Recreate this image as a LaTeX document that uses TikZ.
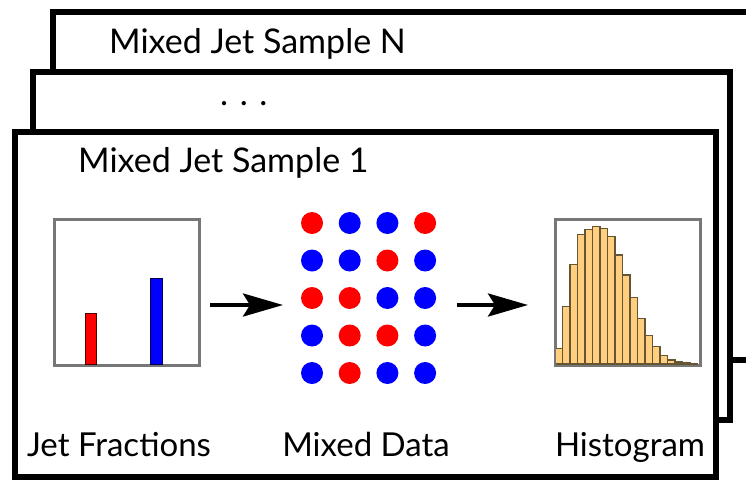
\documentclass[tikz,border=0pt]{standalone}
\usepackage{fontspec}
\setmainfont{Lato}
\usetikzlibrary{arrows.meta}
\definecolor{framegray}{HTML}{777777}
\definecolor{histfill}{HTML}{FFCF7F}
\definecolor{histedge}{HTML}{665533}
\definecolor{dotred}{HTML}{FF0000}
\definecolor{dotblue}{HTML}{0000FF}
\tikzset{
  frame/.style={draw=black, line width=6pt, fill=white},
  plotbox/.style={draw=framegray, line width=2pt, fill=white, minimum width=144pt, minimum height=145pt, inner sep=0pt, anchor=north west},
  title/.style={font=\fontsize{34}{40}\selectfont, anchor=base west, inner sep=0pt},
  label/.style={font=\fontsize{33}{38}\selectfont, anchor=base, inner sep=0pt},
  flow/.style={line width=4pt, -{Stealth[length=40pt, width=23pt, inset=7pt]}},
  rdot/.style={circle, fill=dotred, minimum size=22pt, inner sep=0pt},
  bdot/.style={circle, fill=dotblue, minimum size=22pt, inner sep=0pt},
  hbar/.style={draw=histedge, line width=1.4pt, fill=histfill},
}
\begin{document}
\begin{tikzpicture}[x=1pt, y=-1pt]
\clip (0,0) rectangle (746,480);
% stacked frames
\draw[frame] (52.5,12) rectangle (800,360);
\node[title] (tN) at (109,53) {Mixed Jet Sample N};
\draw[frame] (33,72) rectangle (730,420);
\node[title] (tdots) at (220,105) {. . .};
\draw[frame] (14.5,132) rectangle (716,477);
\node[title] (t1) at (78,172) {Mixed Jet Sample 1};

% jet fractions plot
\node[plotbox] (chart) at (54,219) {};
\draw[draw=black!70!red, line width=1pt, fill=dotred] (85,364) rectangle (96,313);
\draw[draw=black!70!blue, line width=1pt, fill=dotblue] (150,364) rectangle (162,278);
\draw[draw=framegray, line width=2pt] (chart.north west) rectangle (chart.south east);

% mixed data
\foreach \row/\cols [count=\i from 0] in {0/{r,b,b,r},1/{b,b,r,b},2/{r,r,b,b},3/{b,r,r,b},4/{b,r,b,b}}{
  \foreach \c [count=\j from 0] in \cols {
    \node[\c dot] (d\i\j) at ({312+37.7*\j},{223+37.5*\i}) {};
  }
}
\node[inner sep=0pt, minimum width=146pt, minimum height=146pt] (data) at (368.5,298) {};

% histogram
\node[plotbox] (hist) at (555,219) {};
\foreach \h [count=\k from 0] in {15.7,57.3,99.7,129.7,134.7,137.3,135.7,127.3,109,89,66.3,45.7,28.3,17.3,8.3,4,2,1,0.7}{
  \draw[hbar] ({555+7.5*\k},364) rectangle ({562.5+7.5*\k},{364-\h});
}
\draw[draw=framegray, line width=2pt] (hist.north west) rectangle (hist.south east);

% arrows
\coordinate (a1s) at (210,305);
\coordinate (a1e) at (283,305);
\coordinate (a2s) at (457,305);
\coordinate (a2e) at (528,305);
\draw[flow] (a1s) -- (a1e);
\draw[flow] (a2s) -- (a2e);

% labels
\node[label] (lj) at (119,456) {Jet Fractions};
\node[label] (lm) at (366,456) {Mixed Data};
\node[label] (lh) at (630,456) {Histogram};
\end{tikzpicture}
\end{document}
